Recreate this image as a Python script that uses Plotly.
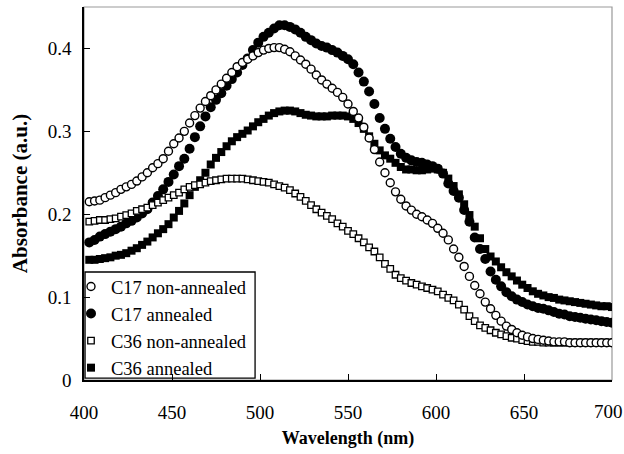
import plotly.graph_objects as go

# Wavelength grid (nm)
wavelength = list(range(403, 701, 3))

c17_non_annealed = [
    0.215, 0.216, 0.217, 0.220, 0.223, 0.226, 0.230, 0.233, 0.236, 0.240,
    0.245, 0.250, 0.256, 0.261, 0.267, 0.276, 0.285, 0.292, 0.300, 0.310,
    0.319, 0.328, 0.336, 0.343, 0.350, 0.357, 0.364, 0.371, 0.378, 0.383,
    0.387, 0.391, 0.395, 0.398, 0.400, 0.401, 0.401, 0.399, 0.396, 0.391,
    0.386, 0.381, 0.375, 0.368, 0.362, 0.357, 0.352, 0.347, 0.341, 0.333,
    0.324, 0.316, 0.305, 0.292, 0.278, 0.263, 0.250, 0.238, 0.227, 0.218,
    0.210, 0.205, 0.200, 0.197, 0.193, 0.189, 0.183, 0.177, 0.169, 0.158,
    0.148, 0.137, 0.125, 0.114, 0.104, 0.094, 0.086, 0.078, 0.071, 0.065,
    0.061, 0.057, 0.054, 0.052, 0.050, 0.049, 0.048, 0.047, 0.046, 0.046,
    0.046, 0.045, 0.045, 0.045, 0.045, 0.045, 0.045, 0.045, 0.045, 0.045,
]

c17_annealed = [
    0.166, 0.169, 0.173, 0.176, 0.179, 0.182, 0.185, 0.189, 0.192, 0.196,
    0.201, 0.206, 0.214, 0.222, 0.230, 0.239, 0.248, 0.258, 0.267, 0.279,
    0.293, 0.306, 0.318, 0.329, 0.338, 0.346, 0.355, 0.363, 0.371, 0.380,
    0.388, 0.398, 0.407, 0.414, 0.419, 0.424, 0.428, 0.428, 0.426, 0.423,
    0.419, 0.414, 0.410, 0.406, 0.403, 0.401, 0.398, 0.395, 0.391, 0.387,
    0.381, 0.371, 0.360, 0.348, 0.333, 0.316, 0.303, 0.291, 0.281, 0.273,
    0.268, 0.265, 0.263, 0.262, 0.260, 0.258, 0.255, 0.249, 0.237, 0.228,
    0.220, 0.205, 0.191, 0.172, 0.158, 0.146, 0.131, 0.121, 0.113, 0.106,
    0.101, 0.097, 0.094, 0.091, 0.089, 0.087, 0.086, 0.084, 0.082, 0.080,
    0.079, 0.077, 0.076, 0.075, 0.074, 0.073, 0.072, 0.071, 0.070, 0.069,
]

c36_non_annealed = [
    0.191, 0.192, 0.193, 0.193, 0.194, 0.195, 0.197, 0.199, 0.201, 0.204,
    0.206, 0.208, 0.211, 0.214, 0.217, 0.220, 0.223, 0.226, 0.230, 0.233,
    0.235, 0.236, 0.238, 0.240, 0.241, 0.242, 0.243, 0.243, 0.243, 0.243,
    0.242, 0.241, 0.240, 0.239, 0.238, 0.236, 0.234, 0.232, 0.229, 0.225,
    0.221, 0.216, 0.211, 0.206, 0.202, 0.198, 0.194, 0.189, 0.185, 0.180,
    0.176, 0.171, 0.166, 0.160, 0.155, 0.148, 0.140, 0.134, 0.127, 0.123,
    0.120, 0.117, 0.115, 0.113, 0.111, 0.109, 0.107, 0.103, 0.099, 0.096,
    0.091, 0.085, 0.077, 0.071, 0.066, 0.063, 0.060, 0.057, 0.055, 0.053,
    0.051, 0.050, 0.048, 0.047, 0.046, 0.046, 0.045, 0.045, 0.045, 0.045,
    0.045, 0.045, 0.045, 0.045, 0.045, 0.045, 0.045, 0.045, 0.045, 0.045,
]

c36_annealed = [
    0.145, 0.145, 0.146, 0.147, 0.148, 0.150, 0.151, 0.153, 0.156, 0.159,
    0.163, 0.167, 0.172, 0.177, 0.182, 0.188, 0.196, 0.204, 0.213, 0.223,
    0.233, 0.241, 0.250, 0.260, 0.268, 0.275, 0.282, 0.288, 0.293, 0.297,
    0.301, 0.306, 0.311, 0.315, 0.319, 0.322, 0.324, 0.325, 0.325, 0.324,
    0.322, 0.320, 0.319, 0.318, 0.318, 0.318, 0.319, 0.319, 0.319, 0.318,
    0.315, 0.310, 0.303, 0.294, 0.285, 0.277, 0.271, 0.267, 0.262, 0.257,
    0.254, 0.254, 0.253, 0.253, 0.254, 0.255, 0.254, 0.250, 0.243, 0.234,
    0.224, 0.212, 0.199, 0.185, 0.171, 0.158, 0.149, 0.143, 0.136, 0.130,
    0.125, 0.120, 0.115, 0.111, 0.107, 0.104, 0.102, 0.100, 0.099, 0.097,
    0.096, 0.095, 0.094, 0.093, 0.092, 0.091, 0.090, 0.089, 0.089, 0.088,
]

x_ticks = [400, 450, 500, 550, 600, 650, 700]
# the last label (700) is drawn as an annotation nudged left so it stays on the page
x_tick_labels = ["400", "450", "500", "550", "600", "650", ""]
last_x_label = "700"
y_ticks = [0, 0.1, 0.2, 0.3, 0.4]
y_tick_labels = ["0", "0.1", "0.2", "0.3", "0.4"]

FONT = "Liberation Serif, Times New Roman, serif"

fig = go.Figure()

# draw order: filled first, open markers on top
fig.add_trace(go.Scatter(
    x=wavelength, y=c36_annealed, mode="markers", name="C36 annealed",
    legendrank=4,
    marker=dict(symbol="square", size=8, color="black", line=dict(width=0)),
))
fig.add_trace(go.Scatter(
    x=wavelength, y=c17_annealed, mode="markers", name="C17 annealed",
    legendrank=2,
    marker=dict(symbol="circle", size=10, color="black", line=dict(width=0)),
))
fig.add_trace(go.Scatter(
    x=wavelength, y=c36_non_annealed, mode="markers", name="C36 non-annealed",
    legendrank=3,
    marker=dict(symbol="square", size=6.5, color="white", line=dict(width=1.3, color="black")),
))
fig.add_trace(go.Scatter(
    x=wavelength, y=c17_non_annealed, mode="markers", name="C17 non-annealed",
    legendrank=1,
    marker=dict(symbol="circle", size=8, color="white", line=dict(width=1.4, color="black")),
))

fig.update_layout(
    width=624, height=454,
    margin=dict(l=84, r=12, t=7, b=74, autoexpand=False),
    paper_bgcolor="white", plot_bgcolor="white",
    font=dict(family=FONT, size=19, color="black"),
    showlegend=True,
    legend=dict(
        x=0, y=0.3003, xanchor="left", yanchor="top",
        bgcolor="rgba(0,0,0,0)", borderwidth=0,
        font=dict(family=FONT, size=18.5, color="black"),
        itemwidth=30, tracegroupgap=0, indentation=-13,
    ),
    shapes=[
        dict(type="rect", xref="paper", yref="paper", x0=0, y0=0, x1=1, y1=1,
             line=dict(color="#999999", width=1.2), layer="below"),
        # legend frame
        dict(type="rect", xref="paper", yref="paper", x0=0.002, y0=0.005, x1=0.324, y1=0.2895,
             line=dict(color="black", width=1.3), fillcolor="white", layer="below"),
    ],
    annotations=[
        dict(text=last_x_label, xref="x", x=x_ticks[-1], yref="paper", y=0,
             xanchor="center", yanchor="top", xshift=-4, yshift=-19,
             showarrow=False, font=dict(family=FONT, size=19, color="black")),
    ],
)

fig.update_xaxes(
    range=[400, 700], tickvals=x_ticks, ticktext=x_tick_labels,
    ticks="inside", ticklen=6, tickcolor="black",
    showline=True, linecolor="black", linewidth=1.5, showgrid=False, zeroline=False,
    ticklabelstandoff=14, automargin=False,
    title=dict(text="Wavelength (nm)", font=dict(family=FONT, size=18, weight="bold"), standoff=10),
)
fig.update_yaxes(
    range=[0, 0.45], tickvals=y_ticks, ticktext=y_tick_labels,
    ticks="inside", ticklen=6, tickcolor="black",
    showline=True, linecolor="black", linewidth=1.5, showgrid=False, zeroline=False,
    ticklabelstandoff=7, automargin=False,
    title=dict(text="Absorbance (a.u.)", font=dict(family=FONT, size=21, weight="bold"), standoff=14),
)

fig.write_html("out.html")
